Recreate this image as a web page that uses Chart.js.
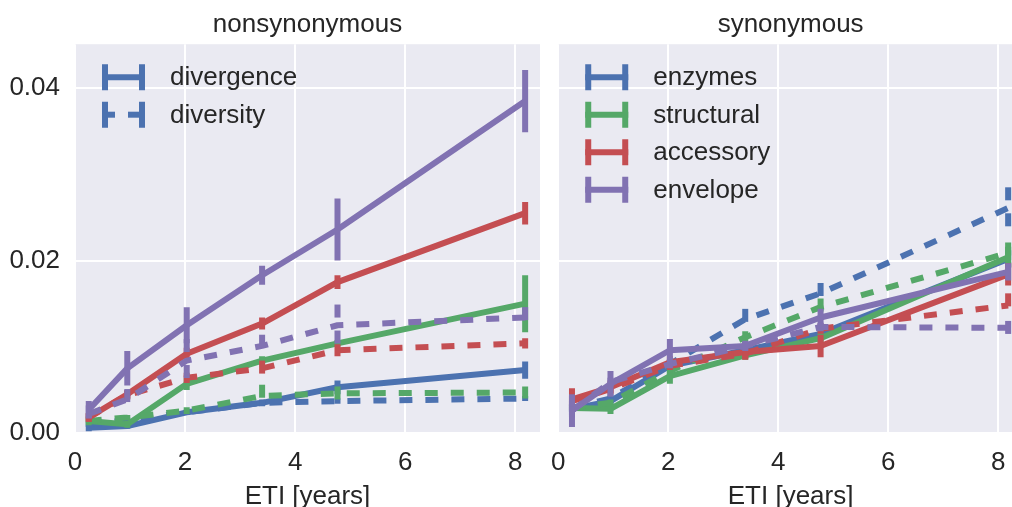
<!DOCTYPE html>
<html>
<head>
<meta charset="utf-8">
<script src="https://cdn.jsdelivr.net/npm/chart.js@4.4.1/dist/chart.umd.min.js"></script>
<style>
html, body { margin: 0; padding: 0; background: #fff; overflow: hidden; }
#wrap { position: relative; width: 1012px; height: 507px; overflow: hidden; }
#nsChart { position: absolute; left: 0; top: 0; }
#synChart { position: absolute; left: 537px; top: 0; }
</style>
</head>
<body>
<div id="wrap">
  <canvas id="nsChart" width="545" height="507"></canvas>
  <canvas id="synChart" width="488" height="507"></canvas>
</div>
<script>
// x positions (ETI, years) shared by every series
var etiYears = [0.25, 0.95, 2.03, 3.4, 4.77, 8.18];
var groups = ['enzymes', 'structural', 'accessory', 'envelope'];
var measures = ['divergence', 'diversity'];
var xTicks = [0, 2, 4, 6, 8];
var yTicks = [0, 0.02, 0.04];

// nonsynonymous - divergence (solid)
var nsDivEnzymes       = [0.0006, 0.0008, 0.0024, 0.0035, 0.0053, 0.0073];
var nsDivEnzymesErr    = [0.0004, 0.0003, 0.0003, 0.0004, 0.0008, 0.0010];
var nsDivStructural    = [0.0014, 0.0010, 0.0057, 0.0084, 0.0104, 0.0150];
var nsDivStructuralErr = [0.0005, 0.0004, 0.0007, 0.0005, 0.0004, 0.0033];
var nsDivAccessory     = [0.0018, 0.0045, 0.0092, 0.0127, 0.0175, 0.0255];
var nsDivAccessoryErr  = [0.0005, 0.0005, 0.0007, 0.0007, 0.0008, 0.0013];
var nsDivEnvelope      = [0.0027, 0.0075, 0.0125, 0.0183, 0.0236, 0.0385];
var nsDivEnvelopeErr   = [0.0010, 0.0020, 0.0021, 0.0011, 0.0036, 0.0036];
// nonsynonymous - diversity (dashed)
var nsDivsEnzymes       = [0.0010, 0.0015, 0.0024, 0.0035, 0.0037, 0.0040];
var nsDivsEnzymesErr    = [0.0003, 0.0003, 0.0003, 0.0003, 0.0003, 0.0003];
var nsDivsStructural    = [0.0014, 0.0018, 0.0026, 0.0043, 0.0046, 0.0047];
var nsDivsStructuralErr = [0.0003, 0.0003, 0.0004, 0.0013, 0.0008, 0.0007];
var nsDivsAccessory     = [0.0018, 0.0044, 0.0064, 0.0075, 0.0096, 0.0104];
var nsDivsAccessoryErr  = [0.0005, 0.0005, 0.0006, 0.0009, 0.0007, 0.0006];
var nsDivsEnvelope      = [0.0022, 0.0039, 0.0084, 0.0101, 0.0125, 0.0134];
var nsDivsEnvelopeErr   = [0.0010, 0.0012, 0.0025, 0.0013, 0.0024, 0.0012];

// synonymous - divergence (solid)
var synDivEnzymes       = [0.0028, 0.0037, 0.0078, 0.0096, 0.0115, 0.0202];
var synDivEnzymesErr    = [0.0010, 0.0006, 0.0006, 0.0006, 0.0006, 0.0010];
var synDivStructural    = [0.0029, 0.0028, 0.0066, 0.0090, 0.0110, 0.0204];
var synDivStructuralErr = [0.0005, 0.0006, 0.0009, 0.0005, 0.0006, 0.0012];
var synDivAccessory     = [0.0039, 0.0053, 0.0082, 0.0094, 0.0101, 0.0184];
var synDivAccessoryErr  = [0.0013, 0.0008, 0.0007, 0.0008, 0.0013, 0.0013];
var synDivEnvelope      = [0.0026, 0.0057, 0.0096, 0.0101, 0.0134, 0.0187];
var synDivEnvelopeErr   = [0.0019, 0.0015, 0.0013, 0.0006, 0.0010, 0.0010];
// synonymous - diversity (dashed)
var synDivsEnzymes       = [0.0029, 0.0040, 0.0080, 0.0132, 0.0162, 0.0261];
var synDivsEnzymesErr    = [0.0005, 0.0005, 0.0006, 0.0012, 0.0012, 0.0024];
var synDivsStructural    = [0.0029, 0.0035, 0.0072, 0.0111, 0.0146, 0.0209];
var synDivsStructuralErr = [0.0004, 0.0004, 0.0006, 0.0007, 0.0010, 0.0012];
var synDivsAccessory     = [0.0037, 0.0051, 0.0078, 0.0092, 0.0121, 0.0148];
var synDivsAccessoryErr  = [0.0006, 0.0005, 0.0005, 0.0007, 0.0006, 0.0014];
var synDivsEnvelope      = [0.0026, 0.0059, 0.0080, 0.0101, 0.0123, 0.0122];
var synDivsEnvelopeErr   = [0.0005, 0.0005, 0.0005, 0.0005, 0.0005, 0.0008];

var groupColors = ['#4C72B0', '#55A868', '#C44E52', '#8172B2'];
var dashPattern = [13, 13];
var lineW = 6;

Chart.defaults.font.family = '"Liberation Sans", Arial, sans-serif';
Chart.defaults.color = '#262626';

function toPoints(vals) {
    var pts = [];
    for (var i = 0; i < vals.length; i++) {
        pts.push({ x: etiYears[i], y: vals[i] });
    }
    return pts;
}

// solid[i] / dashed[i] are [values, errors] for groups[i]
function buildDatasets(solid, dashed) {
    var sets = [];
    for (var i = 0; i < groups.length; i++) {
        sets.push({ label: groups[i] + ' ' + measures[0], data: toPoints(solid[i][0]), errors: solid[i][1],
                    borderColor: groupColors[i], borderDash: [] });
        sets.push({ label: groups[i] + ' ' + measures[1], data: toPoints(dashed[i][0]), errors: dashed[i][1],
                    borderColor: groupColors[i], borderDash: dashPattern });
    }
    sets.forEach(function (s, k) {
        s.order = sets.length - k;   // later series on top
        s.borderWidth = lineW;
        s.pointRadius = 0;
        s.tension = 0;
        s.fill = false;
        s.borderJoinStyle = 'round';
        s.borderCapStyle = 'butt';
    });
    return sets;
}

var bgPlugin = {
    id: 'panelBg',
    beforeDraw: function (chart) {
        var a = chart.chartArea, ctx = chart.ctx;
        ctx.save();
        ctx.fillStyle = '#EAEAF2';
        ctx.fillRect(a.left, a.top, a.right - a.left, a.bottom - a.top);
        ctx.restore();
    }
};

var errorBarPlugin = {
    id: 'errorBars',
    afterDatasetDraw: function (chart, args) {
        var ds = chart.data.datasets[args.index];
        var yScale = chart.scales.y, a = chart.chartArea, ctx = chart.ctx;
        ctx.save();
        ctx.beginPath();
        ctx.rect(a.left, a.top - 5, a.right - a.left + 5, a.bottom - a.top + 10);
        ctx.clip();
        ctx.strokeStyle = ds.borderColor;
        ctx.lineWidth = ds.borderWidth;
        ctx.lineCap = 'butt';
        ctx.setLineDash(ds.borderDash);
        args.meta.data.forEach(function (pt, i) {
            var v = ds.data[i].y, e = ds.errors[i];
            ctx.beginPath();
            ctx.moveTo(pt.x, yScale.getPixelForValue(v + e));
            ctx.lineTo(pt.x, yScale.getPixelForValue(v - e));
            ctx.stroke();
        });
        ctx.restore();
    }
};

var legendPlugin = {
    id: 'ebLegend',
    afterDraw: function (chart, args, opts) {
        var a = chart.chartArea, ctx = chart.ctx;
        ctx.save();
        opts.items.forEach(function (it, i) {
            var y = a.top + 33 + i * 37.5;
            var x0 = a.left + 27, x1 = a.left + 70;
            ctx.strokeStyle = it.color;
            ctx.lineWidth = lineW;
            ctx.lineCap = 'butt';
            ctx.setLineDash(it.dashed ? dashPattern : []);
            ctx.beginPath();
            ctx.moveTo(x0, y);
            ctx.lineTo(x1, y);
            ctx.stroke();
            ctx.setLineDash([]);
            ctx.beginPath();
            ctx.moveTo(x0 + lineW / 2, y - 13);
            ctx.lineTo(x0 + lineW / 2, y + 13);
            ctx.moveTo(x1 - lineW / 2, y - 13);
            ctx.lineTo(x1 - lineW / 2, y + 13);
            ctx.stroke();
            ctx.fillStyle = '#262626';
            ctx.font = '26px "Liberation Sans", Arial, sans-serif';
            ctx.textBaseline = 'middle';
            ctx.textAlign = 'left';
            ctx.fillText(it.text, a.left + 95, y + 1);
        });
        ctx.restore();
    }
};

function makeOptions(title, showY, pad, legendItems) {
    return {
        responsive: false,
        animation: false,
        layout: { padding: pad },
        plugins: {
            legend: { display: false },
            tooltip: { enabled: false },
            title: {
                display: true, text: title, fullSize: false,
                font: { size: 26, weight: 'normal' },
                padding: { top: 9, bottom: 4 }
            },
            ebLegend: { items: legendItems }
        },
        scales: {
            x: {
                type: 'linear', min: 0, max: 8.45,
                afterBuildTicks: function (s) { s.ticks = xTicks.map(function (v) { return { value: v }; }); },
                afterFit: function (s) { s.height = 74; },
                grid: { color: '#FFFFFF', lineWidth: 2, drawTicks: false },
                border: { display: false },
                ticks: { font: { size: 26 }, padding: 14, maxRotation: 0 },
                title: { display: true, text: 'ETI [years]', font: { size: 26, lineHeight: 0.8 }, padding: 0 }
            },
            y: {
                type: 'linear', min: 0, max: 0.0451,
                afterBuildTicks: function (s) { s.ticks = yTicks.map(function (v) { return { value: v }; }); },
                afterFit: function (s) { s.width = showY ? 75 : 0; },
                grid: { color: '#FFFFFF', lineWidth: 2, drawTicks: false },
                border: { display: false },
                ticks: {
                    display: showY, font: { size: 26 }, padding: 15,
                    callback: function (v) { return v.toFixed(2); }
                }
            }
        }
    };
}

new Chart(document.getElementById('nsChart').getContext('2d'), {
    type: 'line',
    data: {
        datasets: buildDatasets(
            [[nsDivEnzymes, nsDivEnzymesErr], [nsDivStructural, nsDivStructuralErr],
             [nsDivAccessory, nsDivAccessoryErr], [nsDivEnvelope, nsDivEnvelopeErr]],
            [[nsDivsEnzymes, nsDivsEnzymesErr], [nsDivsStructural, nsDivsStructuralErr],
             [nsDivsAccessory, nsDivsAccessoryErr], [nsDivsEnvelope, nsDivsEnvelopeErr]])
    },
    options: makeOptions('nonsynonymous', true, { left: 0, right: 5, top: 0, bottom: 0 }, [
        { text: measures[0], color: groupColors[0], dashed: false },
        { text: measures[1], color: groupColors[0], dashed: true }
    ]),
    plugins: [bgPlugin, errorBarPlugin, legendPlugin]
});

new Chart(document.getElementById('synChart').getContext('2d'), {
    type: 'line',
    data: {
        datasets: buildDatasets(
            [[synDivEnzymes, synDivEnzymesErr], [synDivStructural, synDivStructuralErr],
             [synDivAccessory, synDivAccessoryErr], [synDivEnvelope, synDivEnvelopeErr]],
            [[synDivsEnzymes, synDivsEnzymesErr], [synDivsStructural, synDivsStructuralErr],
             [synDivsAccessory, synDivsAccessoryErr], [synDivsEnvelope, synDivsEnvelopeErr]])
    },
    options: makeOptions('synonymous', false, { left: 5, right: 2, top: 0, bottom: 0 },
        groups.map(function (g, i) { return { text: g, color: groupColors[i], dashed: false }; })),
    plugins: [bgPlugin, errorBarPlugin, legendPlugin]
});
</script>
</body>
</html>
